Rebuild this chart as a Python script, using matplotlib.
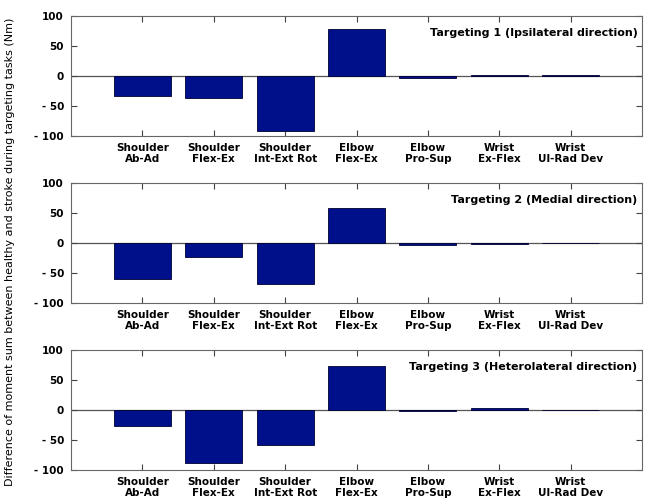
import matplotlib
matplotlib.use("Agg")
import matplotlib.pyplot as plt

joints = ["Shoulder\nAb-Ad", "Shoulder\nFlex-Ex", "Shoulder\nInt-Ext Rot",
          "Elbow\nFlex-Ex", "Elbow\nPro-Sup", "Wrist\nEx-Flex", "Wrist\nUl-Rad Dev"]

targeting1 = [-33, -37, -91, 78, -3, 2, 2]
targeting2 = [-60, -23, -68, 58, -3, -2, 0]
targeting3 = [-26, -88, -59, 74, -2, 3, 0]

titles = ["Targeting 1 (Ipsilateral direction)",
          "Targeting 2 (Medial direction)",
          "Targeting 3 (Heterolateral direction)"]

yticks = [-100, -50, 0, 50, 100]
ytick_labels = ["- 100", "- 50", "0", "50", "100"]

plt.rcParams['font.family'] = ['DejaVu Sans']

fig = plt.figure(figsize=(6.55, 5.03), dpi=100)
W, H = 655, 503
left, right = 71, 642
tops = [16, 183, 350]
height = 120

bar_color = "#00108a"
x = list(range(1, len(joints) + 1))

for top, vals, title in zip(tops, [targeting1, targeting2, targeting3], titles):
    ax = fig.add_axes([left / W, 1 - (top + height) / H, (right - left) / W, height / H])
    ax.bar(x, vals, width=0.8, color=bar_color, edgecolor="#000033", linewidth=0.6, zorder=2)
    ax.axhline(0, color="#555555", linewidth=0.9, zorder=1)
    ax.set_xlim(0, 8)
    ax.set_ylim(-100, 100)
    ax.set_xticks(x)
    ax.set_xticklabels(joints, fontsize=7.5, fontweight="bold", linespacing=1.15)
    ax.set_yticks(yticks)
    ax.set_yticklabels(ytick_labels, fontsize=7.5, fontweight="bold")
    ax.tick_params(direction="in", top=True, right=True, length=4, width=0.8,
                   color="#444444", pad=5)
    ax.tick_params(axis="x", pad=5)
    for s in ax.spines.values():
        s.set_color("#666666")
        s.set_linewidth(0.8)
    ax.text(0.992, 0.86, title, transform=ax.transAxes, ha="right", va="center",
            fontsize=8, fontweight="bold")

fig.text(0.016, 0.5, "Difference of moment sum between healthy and stroke during targeting tasks (Nm)",
         rotation=90, ha="center", va="center", fontsize=8)

fig.savefig("out.png", dpi=100)
